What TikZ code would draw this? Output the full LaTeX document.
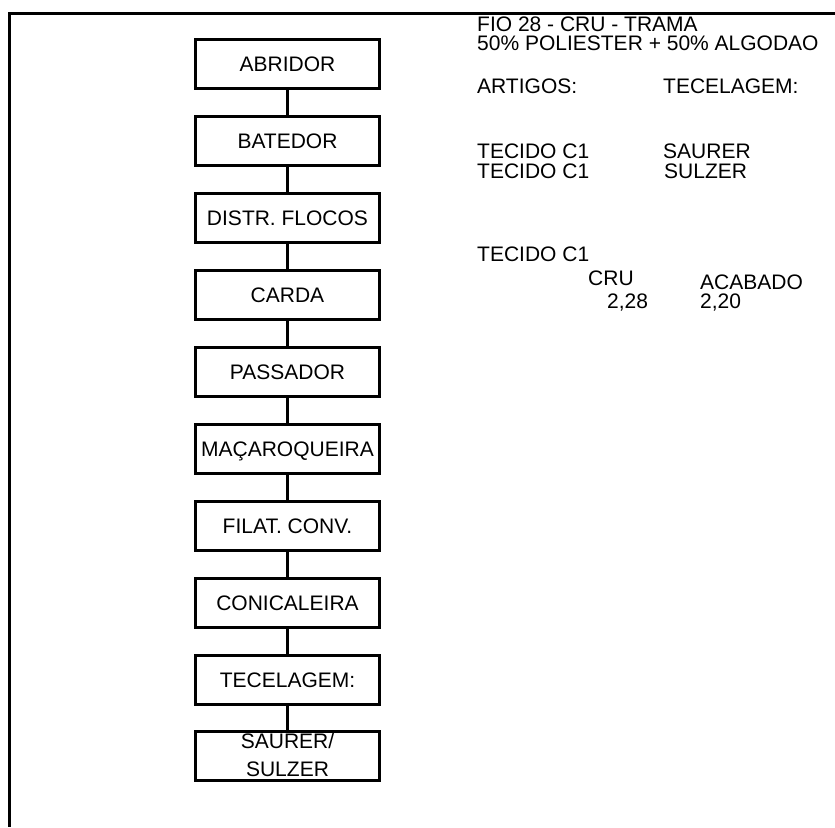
\documentclass[tikz,border=0pt]{standalone}
\usepackage{fontspec}
\setmainfont{Liberation Sans}
\begin{document}
\begin{tikzpicture}[x=1pt,y=-1pt,
  box/.style={draw, line width=3pt, minimum width=184pt, minimum height=49pt, inner sep=0pt,
    font=\fontsize{21}{25}\selectfont, text height=15pt, text depth=0pt},
  conn/.style={line width=3pt},
  border/.style={line width=3pt},
  txt/.style={font=\fontsize{21}{25}\selectfont, inner sep=0pt, anchor=base west}]
\useasboundingbox (0,0) rectangle (835,827);
\coordinate (tl) at (9.5,13.5);
\coordinate (tr) at (835,13.5);
\coordinate (bl) at (9.5,827);
\draw[border] (tr) -- (tl) -- (bl);
\node[box] (b1) at (287.5,63.5) {ABRIDOR};
\node[box] (b2) at (287.5,140.5) {BATEDOR};
\node[box] (b3) at (287.5,217.5) {DISTR. FLOCOS};
\node[box] (b4) at (287.5,295) {CARDA};
\node[box] (b5) at (287.5,371.5) {PASSADOR};
\node[box] (b6) at (287.5,448.5) {MAÇAROQUEIRA};
\node[box] (b7) at (287.5,525.5) {FILAT. CONV.};
\node[box] (b8) at (287.5,602.5) {CONICALEIRA};
\node[box] (b9) at (287.5,679.5) {TECELAGEM:};
\node[box] (b10) at (287.5,756) {};
\node[font=\fontsize{21}{28}\selectfont, align=center, inner sep=0pt] (b10t) at (287.5,754.5) {SAURER/\\SULZER};
\foreach \a/\b in {b1/b2,b2/b3,b3/b4,b4/b5,b5/b6,b6/b7,b7/b8,b8/b9,b9/b10}
  \draw[conn] (\a.south) -- (\b.north);
\node[txt] (t1) at (477,31) {FIO 28 - CRU - TRAMA};
\node[txt] (t2) at (477,50) {50\% POLIESTER + 50\% ALGODAO};
\node[txt] (t3) at (477,93) {ARTIGOS:};
\node[txt] (t4) at (663,93) {TECELAGEM:};
\node[txt] (t5) at (477,158) {TECIDO C1};
\node[txt] (t6) at (663,158) {SAURER};
\node[txt] (t7) at (477,178) {TECIDO C1};
\node[txt] (t8) at (664,178) {SULZER};
\node[txt] (t9) at (477,261) {TECIDO C1};
\node[txt] (t10) at (588,285) {CRU};
\node[txt] (t11) at (700,289) {ACABADO};
\node[txt] (t12) at (607,308) {2,28};
\node[txt] (t13) at (700,308) {2,20};
\end{tikzpicture}
\end{document}
